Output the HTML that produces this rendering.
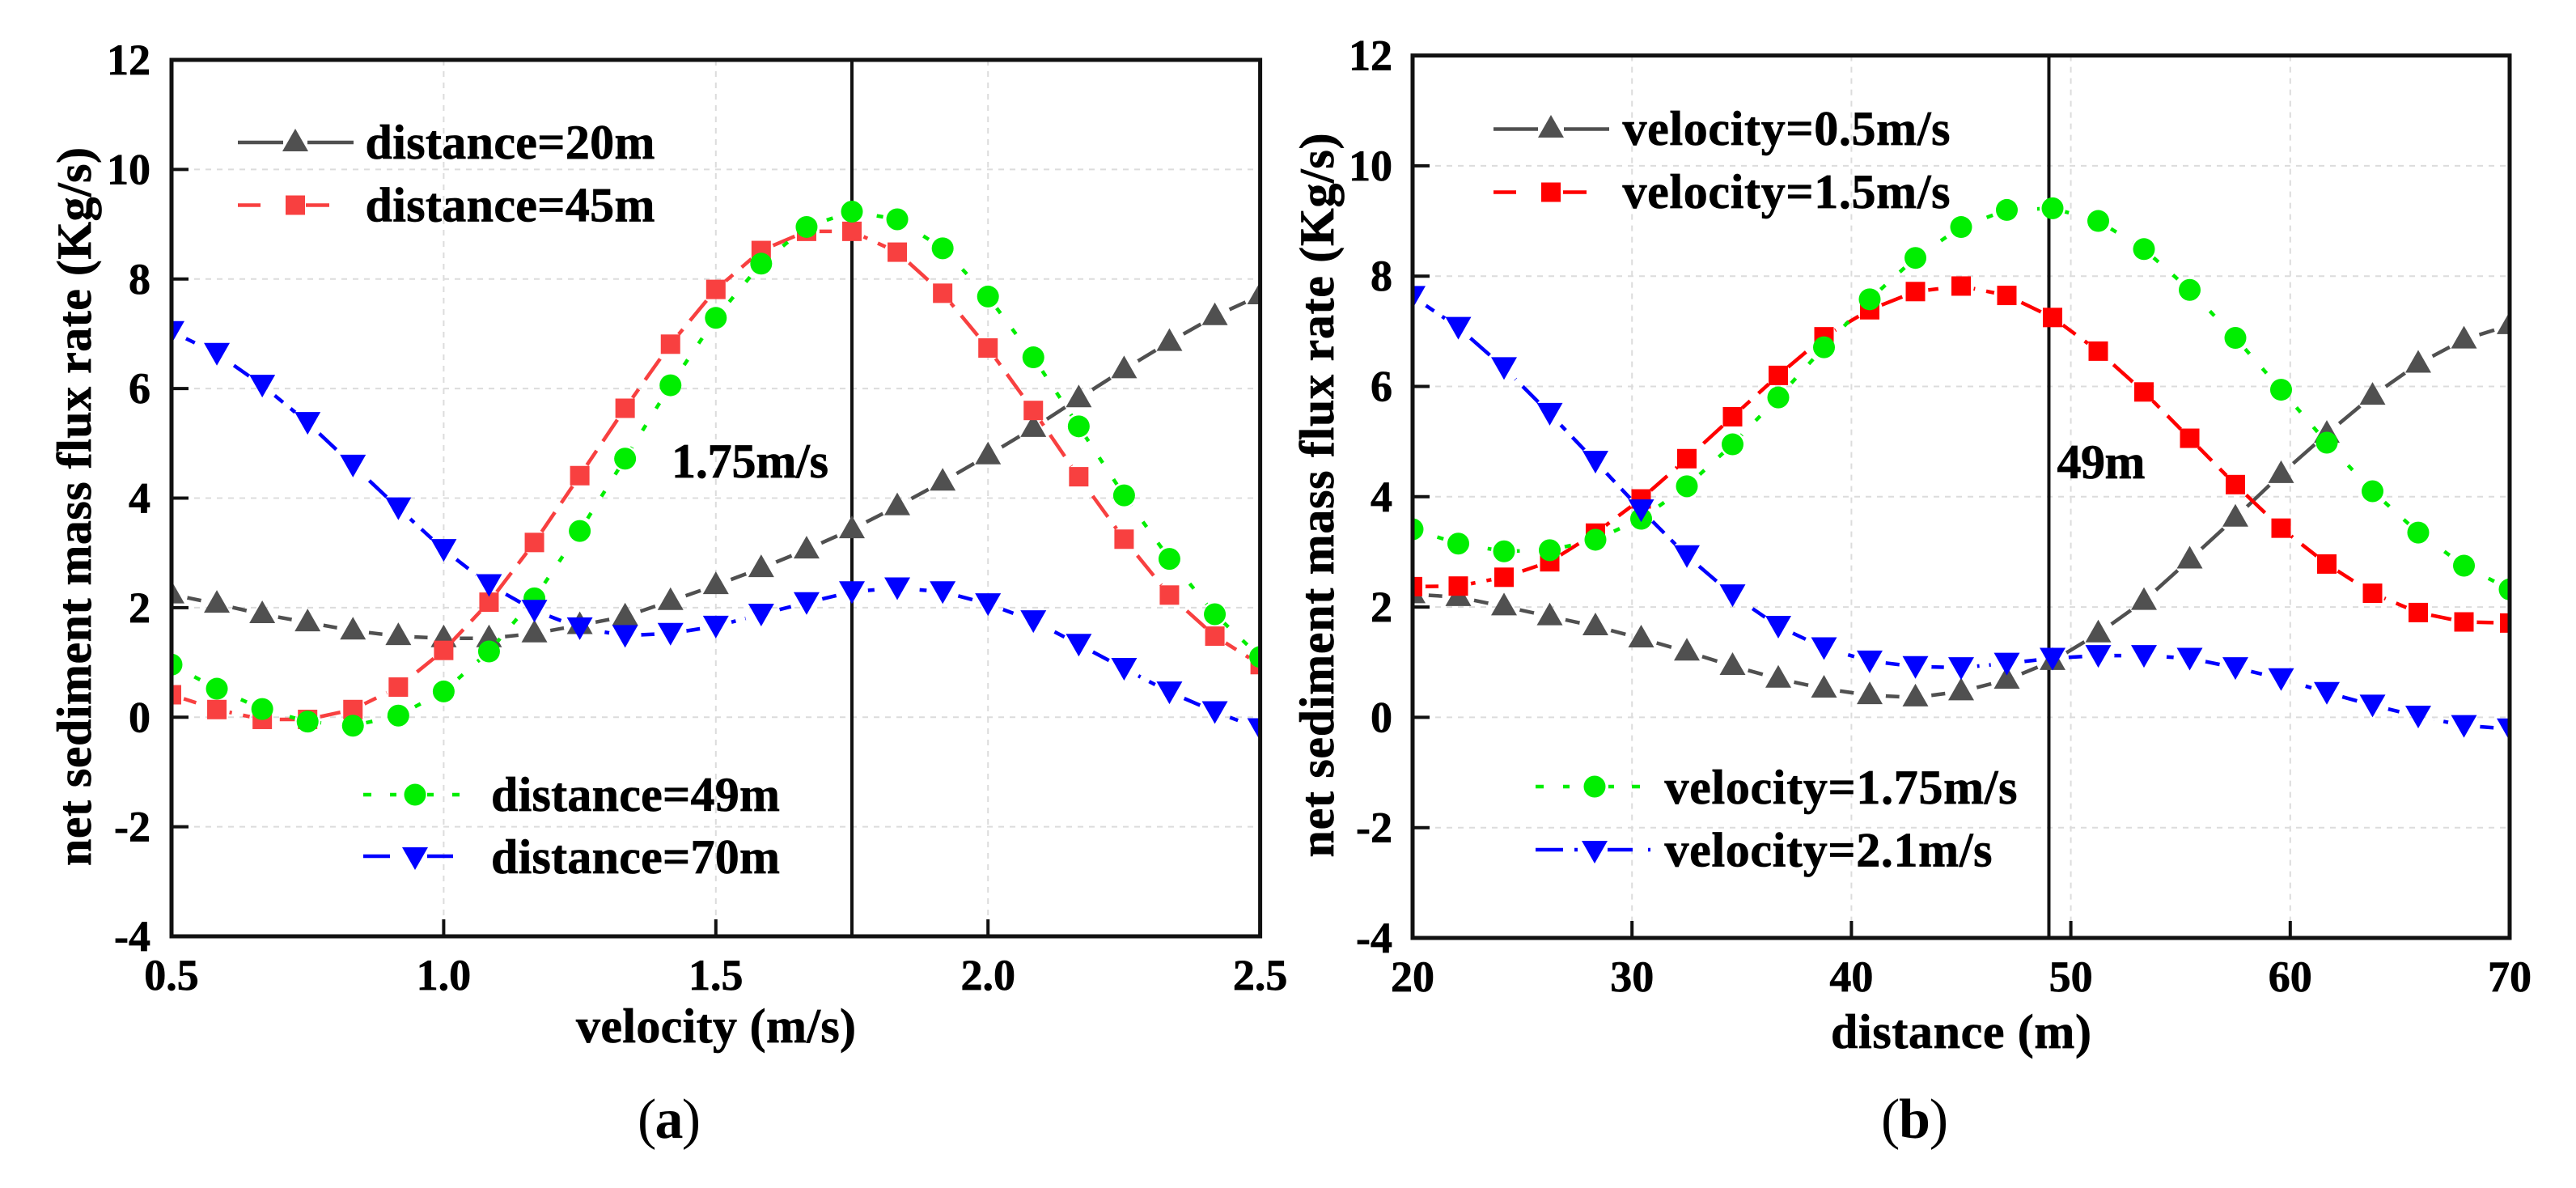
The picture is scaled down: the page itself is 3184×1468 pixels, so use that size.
<!DOCTYPE html>
<html lang="en">
<head>
<meta charset="utf-8">
<title>Net sediment mass flux rate versus velocity and distance</title>
<style>
html,body{margin:0;padding:0;background:#fff;}
svg{display:block;}
text{font-family:"Liberation Serif",serif;font-weight:bold;fill:#000;stroke:#000;stroke-width:0.7px;}
.lg{font-size:60px;}
.ti{font-size:60px;}
</style>
</head>
<body>
<svg id="figure" xmlns="http://www.w3.org/2000/svg" width="3184" height="1468" viewBox="0 0 3184 1468">
  <rect x="0" y="0" width="3184" height="1468" fill="#fff"/>
  <g id="panel-a"></g>
  <g id="panel-b"></g>

  <!-- Panel (a) text -->
  <text class="ti" transform="translate(112,626) rotate(-90)" text-anchor="middle" textLength="888">net sediment mass flux rate (Kg/s)</text>
  <text class="ti" x="885" y="1288" text-anchor="middle" textLength="346">velocity (m/s)</text>
  <text class="ti" x="830" y="590" textLength="194">1.75m/s</text>
  <text x="788" y="1406" font-size="70" textLength="78" style="font-weight:normal;stroke-width:0">(<tspan style="font-weight:bold">a</tspan>)</text>

  <g>
    <g>
      <path d="M294 176H350M380 176H437" stroke="#505050" stroke-width="4.500" fill="none"/>
      <polygon points="365,159 381,187 349,187" fill="#505050"/>
      <text class="lg" x="451.5" y="196" textLength="358">distance=20m</text>
    </g>
    <g>
      <path d="M294 253.5H322M378 253.5H407" stroke="#f84040" stroke-width="4.500" fill="none"/>
      <rect x="353" y="241.500" width="24" height="24" fill="#f84040"/>
      <text class="lg" x="451.5" y="273.700" textLength="358">distance=45m</text>
    </g>
    <g>
      <path d="M449 982H459M482 982H490M528 982H536M559 982H568" stroke="#00ee00" stroke-width="4.500" fill="none"/>
      <circle cx="513" cy="982" r="13.500" fill="#00ee00"/>
      <text class="lg" x="607" y="1002" textLength="357">distance=49m</text>
    </g>
    <g>
      <path d="M449 1058H482M528 1058H560" stroke="#0000ff" stroke-width="4.500" fill="none"/>
      <polygon points="497,1047 529,1047 513,1075" fill="#0000ff"/>
      <text class="lg" x="607" y="1079" textLength="357">distance=70m</text>
    </g>
  </g>

  <!-- Panel (b) text -->
  <text class="ti" transform="translate(1648,612) rotate(-90)" text-anchor="middle" textLength="895">net sediment mass flux rate (Kg/s)</text>
  <text class="ti" x="2424" y="1295" text-anchor="middle" textLength="322">distance (m)</text>
  <text class="ti" x="2542.500" y="591" textLength="109">49m</text>
  <text x="2325" y="1406" font-size="70" textLength="83" style="font-weight:normal;stroke-width:0">(<tspan style="font-weight:bold">b</tspan>)</text>

  <g>
    <g>
      <path d="M1846 159.500H1901M1933 159.500H1989" stroke="#505050" stroke-width="4.500" fill="none"/>
      <polygon points="1917,142 1933,170 1901,170" fill="#505050"/>
      <text class="lg" x="2005.500" y="179" textLength="405">velocity=0.5m/s</text>
    </g>
    <g>
      <path d="M1846 237.500H1874M1932 237.500H1961" stroke="#ff0000" stroke-width="4.500" fill="none"/>
      <rect x="1905" y="225.500" width="24" height="24" fill="#ff0000"/>
      <text class="lg" x="2005.500" y="257" textLength="405">velocity=1.5m/s</text>
    </g>
    <g>
      <path d="M1898 972H1908M1932 972H1940M1988 972H1995M2017 972H2027" stroke="#00ee00" stroke-width="4.500" fill="none"/>
      <circle cx="1971" cy="972" r="13.500" fill="#00ee00"/>
      <text class="lg" x="2057.500" y="993" textLength="436">velocity=1.75m/s</text>
    </g>
    <g>
      <path d="M1898 1050H1932M1946 1050H1950M1987 1050H2018M2037 1050H2040" stroke="#0000ff" stroke-width="4.500" fill="none"/>
      <polygon points="1955,1039 1987,1039 1971,1067" fill="#0000ff"/>
      <text class="lg" x="2057.500" y="1070.500" textLength="405">velocity=2.1m/s</text>
    </g>
  </g>
</svg>

<script>
// ---- Shared tick labels ----
const yTickLabels = [12, 10, 8, 6, 4, 2, 0, -2, -4];

// ---- Panel (a) data ----
const aVelocity = [0.5, 0.5833, 0.6667, 0.75, 0.8333, 0.9167, 1.0, 1.0833, 1.1667, 1.25, 1.3333, 1.4167, 1.5, 1.5833, 1.6667, 1.75, 1.8333, 1.9167, 2.0, 2.0833, 2.1667, 2.25, 2.3333, 2.4167, 2.5];
const aDistance20 = [2.24, 2.07, 1.88, 1.73, 1.58, 1.48, 1.44, 1.44, 1.53, 1.68, 1.84, 2.12, 2.41, 2.72, 3.06, 3.43, 3.85, 4.30, 4.78, 5.28, 5.82, 6.35, 6.85, 7.32, 7.70];
const aDistance45 = [0.41, 0.14, -0.04, -0.04, 0.14, 0.55, 1.22, 2.10, 3.19, 4.41, 5.64, 6.81, 7.81, 8.52, 8.87, 8.87, 8.49, 7.74, 6.74, 5.60, 4.39, 3.25, 2.23, 1.48, 0.96];
const aDistance49 = [0.96, 0.52, 0.15, -0.08, -0.155, 0.03, 0.47, 1.20, 2.17, 3.40, 4.72, 6.06, 7.29, 8.28, 8.95, 9.23, 9.09, 8.56, 7.68, 6.57, 5.31, 4.05, 2.89, 1.88, 1.10];
const aDistance70 = [7.04, 6.64, 6.06, 5.38, 4.60, 3.82, 3.06, 2.42, 1.95, 1.63, 1.49, 1.53, 1.66, 1.88, 2.09, 2.29, 2.36, 2.29, 2.07, 1.76, 1.33, 0.89, 0.46, 0.10, -0.21];
const aXTickLabels = ["0.5", "1.0", "1.5", "2.0", "2.5"];
const aReferenceX = 1.75;

// ---- Panel (b) data ----
const bDistance = [20, 22.083, 24.167, 26.25, 28.333, 30.417, 32.5, 34.583, 36.667, 38.75, 40.833, 42.917, 45, 47.083, 49.167, 51.25, 53.333, 55.417, 57.5, 59.583, 61.667, 63.75, 65.833, 67.917, 70];
const bVelocity05 = [2.23, 2.18, 2.01, 1.83, 1.65, 1.43, 1.19, 0.93, 0.70, 0.52, 0.40, 0.36, 0.47, 0.68, 1.02, 1.52, 2.11, 2.86, 3.62, 4.41, 5.14, 5.83, 6.41, 6.85, 7.11];
const bVelocity15 = [2.37, 2.38, 2.54, 2.82, 3.34, 3.96, 4.69, 5.45, 6.20, 6.90, 7.39, 7.72, 7.82, 7.65, 7.25, 6.64, 5.90, 5.06, 4.22, 3.43, 2.78, 2.25, 1.90, 1.73, 1.71];
const bVelocity175 = [3.41, 3.15, 3.01, 3.03, 3.22, 3.60, 4.19, 4.95, 5.80, 6.71, 7.58, 8.33, 8.89, 9.20, 9.23, 9.00, 8.49, 7.75, 6.88, 5.94, 4.98, 4.10, 3.35, 2.75, 2.32];
const bVelocity21 = [7.63, 7.07, 6.34, 5.51, 4.64, 3.76, 2.93, 2.22, 1.65, 1.26, 1.02, 0.92, 0.90, 0.98, 1.07, 1.12, 1.12, 1.07, 0.90, 0.70, 0.45, 0.22, 0.02, -0.15, -0.21];
const bXTickLabels = ["20", "30", "40", "50", "60", "70"];
const bReferenceX = 49;

const NS = 'http://www.w3.org/2000/svg';

function mk(tag, attrs, parent) {
  const el = document.createElementNS(NS, tag);
  for (const k in attrs) el.setAttribute(k, attrs[k]);
  parent.appendChild(el);
  return el;
}

function linear(d0, d1, r0, r1) {
  return v => r0 + (v - d0) * (r1 - r0) / (d1 - d0);
}

function marker(kind, cx, cy, color, parent) {
  let el;
  if (kind === 'up') {
    el = mk('polygon', {points: (cx) + ',' + (cy - 17) + ' ' + (cx + 16) + ',' + (cy + 11) + ' ' + (cx - 16) + ',' + (cy + 11), fill: color}, parent);
  } else if (kind === 'down') {
    el = mk('polygon', {points: (cx - 16) + ',' + (cy - 13) + ' ' + (cx + 16) + ',' + (cy - 13) + ' ' + cx + ',' + (cy + 15), fill: color}, parent);
  } else if (kind === 'square') {
    el = mk('rect', {x: cx - 12, y: cy - 12, width: 24, height: 24, fill: color}, parent);
  } else {
    el = mk('circle', {cx: cx, cy: cy, r: 13.5, fill: color}, parent);
  }
  return el;
}

function drawPanel(id, box, xDomain, xTicks, xLabels, refX, xs, seriesList) {
  const root = document.getElementById(id);
  const X = linear(xDomain[0], xDomain[1], box.left, box.right);
  const Y = linear(-4, 12, box.bottom, box.top);
  const clipId = id + '-clip';
  const defs = mk('defs', {}, root);
  const clip = mk('clipPath', {id: clipId}, defs);
  mk('rect', {x: box.left, y: box.top, width: box.right - box.left, height: box.bottom - box.top}, clip);

  const grid = mk('g', {}, root);
  
  
  xTicks.forEach(t => {
    if (t === xDomain[0] || t === xDomain[1]) return;
    const line = mk('line', {x1: X(t), x2: X(t), y1: box.top, y2: box.bottom, stroke: '#dcdcdc', 'stroke-width': 2, 'stroke-dasharray': '7 7'}, grid);
    
    
  });
  yTickLabels.forEach(t => {
    if (t === 12 || t === -4) return;
    const line = mk('line', {x1: box.left, x2: box.right, y1: Y(t), y2: Y(t), stroke: '#dcdcdc', 'stroke-width': 2, 'stroke-dasharray': '7 7'}, grid);
    
    
  });

  const ref = mk('line', {x1: X(refX), x2: X(refX), y1: box.top, y2: box.bottom, stroke: '#111', 'stroke-width': 4}, root);
  
  

  const plot = mk('g', {'clip-path': 'url(#' + clipId + ')'}, root);
  
  

  seriesList.forEach((s, si) => {
    const group = mk('g', {}, plot);
    
    

    const maskId = id + '-gap-' + si;
    const mask = mk('mask', {id: maskId, maskUnits: 'userSpaceOnUse', x: 0, y: 0, width: 3184, height: 1468}, defs);
    mk('rect', {x: 0, y: 0, width: 3184, height: 1468, fill: '#fff'}, mask);
    s.values.forEach((v, i) => {
      mk('circle', {cx: X(xs[i]), cy: Y(v), r: s.gap, fill: '#000'}, mask);
    });

    const d = s.values.map((v, i) => (i ? 'L' : 'M') + X(xs[i]).toFixed(2) + ' ' + Y(v).toFixed(2)).join('');
    const path = mk('path', {d: d, fill: 'none', stroke: s.color, 'stroke-width': 4.5, mask: 'url(#' + maskId + ')'}, group);
    if (s.dash) path.setAttribute('stroke-dasharray', s.dash);
    
    

    s.values.forEach((v, i) => {
      const m = marker(s.kind, X(xs[i]), Y(v), s.color, group);
      
      
    });
  });

  const axes = mk('g', {}, root);
  
  

  const frame = mk('rect', {x: box.left, y: box.top, width: box.right - box.left, height: box.bottom - box.top, fill: 'none', stroke: '#111', 'stroke-width': 5}, axes);
  
  

  yTickLabels.forEach(t => {
    const tick = mk('line', {x1: box.left, x2: box.left + 21, y1: Y(t), y2: Y(t), stroke: '#111', 'stroke-width': 4}, axes);
    
    
    const label = mk('text', {x: box.yLabelX, y: Y(t) + 18, 'text-anchor': 'end', 'font-size': 54}, axes);
    label.textContent = String(t);
    
    
  });

  xTicks.forEach((t, i) => {
    const tick = mk('line', {x1: X(t), x2: X(t), y1: box.bottom, y2: box.bottom - 21, stroke: '#111', 'stroke-width': 4}, axes);
    
    
    const label = mk('text', {x: X(t), y: box.xLabelY, 'text-anchor': 'middle', 'font-size': 54}, axes);
    label.textContent = xLabels[i];
    
    
  });
}

drawPanel('panel-a',
  {left: 212, right: 1557.6, top: 74, bottom: 1157, yLabelX: 186, xLabelY: 1223},
  [0.5, 2.5], aXTickLabels.map(Number), aXTickLabels, aReferenceX, aVelocity,
  [
    {name: 'series-distance-20m', values: aDistance20, color: '#505050', kind: 'up', dash: '', gap: 20},
    {name: 'series-distance-45m', values: aDistance45, color: '#f84040', kind: 'square', dash: '32 14', gap: 16},
    {name: 'series-distance-49m', values: aDistance49, color: '#00ee00', kind: 'circle', dash: '8 24', gap: 16},
    {name: 'series-distance-70m', values: aDistance70, color: '#0000ff', kind: 'down', dash: '32 12', gap: 20}
  ]);

drawPanel('panel-b',
  {left: 1746, right: 3102, top: 68.6, bottom: 1159, yLabelX: 1721, xLabelY: 1225},
  [20, 70], bXTickLabels.map(Number), bXTickLabels, bReferenceX, bDistance,
  [
    {name: 'series-velocity-0-5', values: bVelocity05, color: '#505050', kind: 'up', dash: '', gap: 20},
    {name: 'series-velocity-1-5', values: bVelocity15, color: '#ff0000', kind: 'square', dash: '32 14', gap: 16},
    {name: 'series-velocity-1-75', values: bVelocity175, color: '#00ee00', kind: 'circle', dash: '8 24', gap: 16},
    {name: 'series-velocity-2-1', values: bVelocity21, color: '#0000ff', kind: 'down', dash: '32 12', gap: 20}
  ]);
</script>
</body>
</html>
